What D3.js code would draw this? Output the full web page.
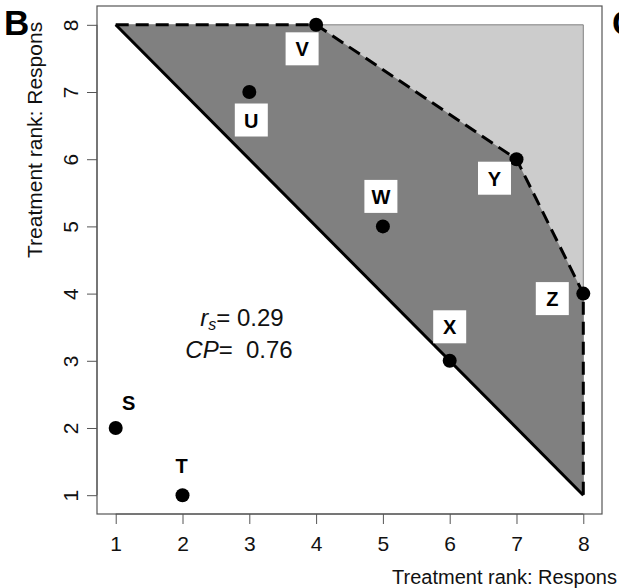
<!DOCTYPE html>
<html>
<head>
<meta charset="utf-8">
<script src="https://cdn.jsdelivr.net/npm/d3@7"></script>
<style>
  html, body { margin: 0; padding: 0; background: #fff; }
  svg { display: block; font-family: Arial, "Liberation Sans", sans-serif; }
</style>
</head>
<body>
<svg id="chart" width="619" height="588"></svg>
<script>
// Treatment rank points
const pointLabels = ["S", "T", "U", "V", "W", "X", "Y", "Z"];
const rankX = [1, 2, 3, 4, 5, 6, 7, 8];
const rankY = [2, 1, 7, 8, 5, 3, 6, 4];

// Maximum possible region (upper-right triangle)
const maxRegionX = [1, 8, 8];
const maxRegionY = [8, 8, 1];

// Observed frontier (dashed), closed by the diagonal
const frontierX = [1, 4, 7, 8, 8];
const frontierY = [8, 8, 6, 4, 1];

// Diagonal reference
const diagX = [1, 8];
const diagY = [8, 1];

const tickValues = [1, 2, 3, 4, 5, 6, 7, 8];
const rsValue = 0.29;
const cpValue = 0.76;

const axisTitle = "Treatment rank: Respons";

// Label placement (pixel offsets from each point)
const labelOffset = {
  S: [13, -25], T: [-1, -30], U: [2, 28], V: [-14, 24],
  W: [-2, -30], X: [0, -34], Y: [-22, 19], Z: [-31, 5]
};

const svg = d3.select("#chart");
const plot = { left: 97, right: 602, top: 6, bottom: 514 };

const x = d3.scaleLinear().domain([0.72, 8.28]).range([plot.left, plot.right]);
const y = d3.scaleLinear().domain([0.72, 8.28]).range([plot.bottom, plot.top]);

const toPts = (xs, ys) => xs.map((v, i) => [x(v), y(ys[i])]);
const line = d3.line();

// Regions
svg.append("path")
  .attr("d", line(toPts(maxRegionX, maxRegionY)) + "Z")
  .attr("fill", "#cccccc")
  .attr("stroke", "#808080")
  .attr("stroke-width", 1);

svg.append("path")
  .attr("d", line(toPts(frontierX, frontierY)) + "Z")
  .attr("fill", "#808080")
  .attr("stroke", "none");

svg.append("path")
  .attr("d", line(toPts(diagX, diagY)))
  .attr("fill", "none")
  .attr("stroke", "#000")
  .attr("stroke-width", 3);

svg.append("path")
  .attr("d", line(toPts(frontierX, frontierY)))
  .attr("fill", "none")
  .attr("stroke", "#000")
  .attr("stroke-width", 3)
  .attr("stroke-dasharray", "13,7");

// Frame
svg.append("rect")
  .attr("x", plot.left).attr("y", plot.top)
  .attr("width", plot.right - plot.left)
  .attr("height", plot.bottom - plot.top)
  .attr("fill", "none")
  .attr("stroke", "#555")
  .attr("stroke-width", 1.2);

// Axes
const xAxis = d3.axisBottom(x).tickValues(tickValues).tickSize(10).tickPadding(12).tickFormat(d3.format("d"));
const gx = svg.append("g").attr("transform", `translate(0,${plot.bottom})`).call(xAxis);
gx.select(".domain").attr("d", `M${x(1)},0H${x(8)}`).attr("stroke", "#555");
gx.selectAll(".tick line").attr("stroke", "#555");
gx.selectAll(".tick text").attr("font-size", 21).attr("fill", "#111").attr("font-family", "Arial, 'Liberation Sans', sans-serif");

const yAxis = d3.axisLeft(y).tickValues(tickValues).tickSize(10).tickFormat(d3.format("d"));
const gy = svg.append("g").attr("transform", `translate(${plot.left},0)`).call(yAxis);
gy.select(".domain").attr("d", `M0,${y(1)}V${y(8)}`).attr("stroke", "#555");
gy.selectAll(".tick line").attr("stroke", "#555");
gy.selectAll(".tick text")
  .attr("font-size", 21).attr("fill", "#111")
  .attr("font-family", "Arial, 'Liberation Sans', sans-serif")
  .attr("x", null).attr("dy", null)
  .attr("text-anchor", "middle")
  .attr("transform", "translate(-19,0) rotate(-90)");

// Axis titles
svg.append("text")
  .attr("x", 617).attr("y", 584)
  .attr("text-anchor", "end")
  .attr("font-size", 20).attr("fill", "#111")
  .text(axisTitle);

svg.append("text")
  .attr("transform", "translate(42,258) rotate(-90)")
  .attr("font-size", 21).attr("fill", "#111")
  .text(axisTitle);

// Panel letters
svg.append("text").attr("x", 4).attr("y", 35)
  .attr("font-size", 35).attr("font-weight", "bold").text("B");
svg.append("text").attr("x", 612).attr("y", 35)
  .attr("font-size", 35).attr("font-weight", "bold").text("C");

// Points
svg.selectAll("circle.pt")
  .data(pointLabels)
  .join("circle")
  .attr("class", "pt")
  .attr("cx", (d, i) => x(rankX[i]))
  .attr("cy", (d, i) => y(rankY[i]))
  .attr("r", 7)
  .attr("fill", "#000");

// Point labels on white boxes
const lab = svg.selectAll("g.lab")
  .data(pointLabels)
  .join("g")
  .attr("class", "lab")
  .attr("transform", (d, i) => `translate(${x(rankX[i]) + labelOffset[d][0]},${y(rankY[i]) + labelOffset[d][1]})`);
lab.append("rect")
  .attr("x", -16.5).attr("y", -16.5).attr("width", 33).attr("height", 33)
  .attr("fill", "#fff");
lab.append("text")
  .attr("text-anchor", "middle")
  .attr("y", 7.5)
  .attr("font-size", 20).attr("font-weight", "bold").attr("fill", "#000")
  .text(d => d);

// Statistics annotation
const ann = svg.append("g").attr("font-size", 24).attr("fill", "#111");
const t1 = ann.append("text").attr("x", 242).attr("y", 326).attr("text-anchor", "middle");
t1.append("tspan").attr("font-style", "italic").text("r");
t1.append("tspan").attr("font-style", "italic").attr("font-size", 16).attr("dy", 4).text("s");
t1.append("tspan").attr("dy", -4).text("= " + rsValue.toFixed(2));
const t2 = ann.append("text").attr("x", 239).attr("y", 358).attr("text-anchor", "middle").attr("xml:space", "preserve");
t2.append("tspan").attr("font-style", "italic").text("CP");
t2.append("tspan").text("=  " + cpValue.toFixed(2));
</script>
</body>
</html>
